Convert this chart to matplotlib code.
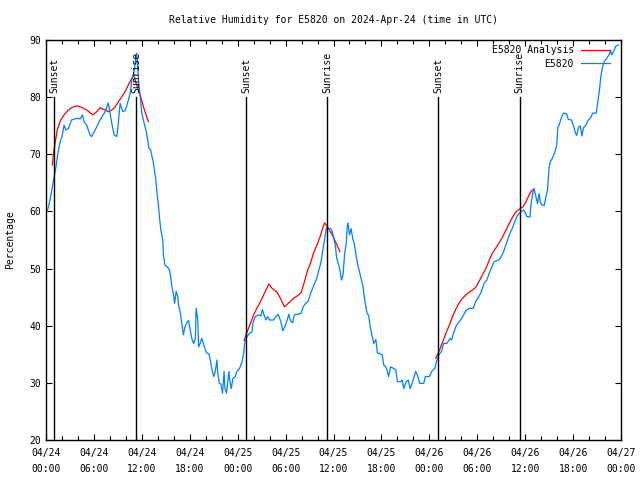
"""Relative humidity at E5820, observed vs analysis, with sunrise/sunset marks."""

import numpy as np
import pandas as pd
import matplotlib
matplotlib.use("Agg")
import matplotlib.pyplot as plt
import matplotlib.dates as mdates

plt.rcParams['font.family'] = ['DejaVu Sans Mono']
plt.rcParams['font.size'] = 7

start = pd.Timestamp('2024-04-24 00:00')

# observed humidity (hours since start, percent)
obs_hours = [0.16, 0.5, 0.92, 1.25, 1.55, 1.84, 2.0, 2.26, 2.5, 2.8, 3.2, 3.85, 4.3, 4.56, 4.77,
             5.1, 5.5, 5.7, 6.15, 6.77, 7.4, 7.8, 7.95, 8.24, 8.53, 8.87, 9.05, 9.28, 9.62, 9.9,
             10.2, 10.54, 10.75, 11.04, 11.25, 11.37, 11.58, 11.79, 12.0, 12.3, 12.6, 12.9, 13.1,
             13.46, 13.75, 13.9, 14.1, 14.2, 14.38, 14.63, 14.7, 14.9, 15.2, 15.47, 15.6, 15.77,
             15.97, 16.1, 16.3, 16.5, 16.6, 16.8, 17.0, 17.2, 17.4, 17.7, 17.85, 18.06, 18.3,
             18.5, 18.7, 18.8, 19.0, 19.1, 19.3, 19.5, 19.7, 19.94, 20.15, 20.4, 20.57, 20.8,
             21.0, 21.2, 21.4, 21.5, 21.7, 21.9, 22.1, 22.3, 22.4, 22.6, 22.9, 23.0, 23.2, 23.4,
             23.7, 23.9, 24.25, 24.55, 24.75, 24.96, 25.18, 25.5, 25.8, 25.9, 26.2, 26.6, 26.9,
             27.1, 27.3, 27.55, 27.75, 28.0, 28.5, 28.7, 29.05, 29.35, 29.65, 29.9, 30.2, 30.4,
             30.6, 30.9, 31.0, 31.2, 31.6, 31.95, 32.2, 32.5, 32.8, 33.0, 33.3, 33.6, 33.9, 34.1,
             34.4, 34.6, 34.8, 35.0, 35.1, 35.65, 35.85, 36.05, 36.25, 36.4, 36.6, 36.8, 37.0,
             37.2, 37.4, 37.6, 37.7, 37.8, 38.0, 38.2, 38.4, 38.6, 38.85, 39.05, 39.3, 39.5,
             39.7, 39.9, 40.2, 40.4, 40.6, 40.85, 41.05, 41.3, 41.5, 41.7, 42.1, 42.3, 42.5,
             42.7, 42.9, 43.15, 43.45, 43.8, 44.0, 44.4, 44.6, 44.8, 45.1, 45.35, 45.6, 45.9,
             46.1, 46.3, 46.5, 46.8, 47.3, 47.5, 48.0, 48.3, 48.7, 48.9, 49.2, 49.5, 49.8, 50.2,
             50.6, 50.8, 51.1, 51.4, 51.9, 52.3, 52.55, 53.0, 53.5, 53.8, 54.2, 54.5, 54.85,
             55.2, 55.5, 55.8, 56.1, 56.7, 57.0, 57.3, 57.5, 57.8, 58.1, 58.4, 58.7, 59.0, 59.45,
             59.8, 59.95, 60.2, 60.6, 60.7, 60.9, 61.1, 61.3, 61.55, 61.75, 61.9, 62.1, 62.4,
             62.6, 62.8, 63.0, 63.15, 63.4, 63.7, 63.95, 64.1, 64.25, 64.5, 64.8, 65.2, 65.4,
             65.8, 66.1, 66.3, 66.45, 66.7, 66.9, 67.1, 67.3, 67.6, 67.9, 68.2, 68.45, 68.9,
             69.1, 69.3, 69.5, 69.7, 69.9, 70.2, 70.5, 70.7, 70.85, 71.2, 71.35, 71.6, 71.7]
obs_rh = [60.0, 62.0, 65.2, 67.8, 70.75, 72.5, 73.0, 75.1, 74.25, 74.5, 76.0, 76.3, 76.2, 76.9, 75.7,
          75.1, 73.4, 73.1, 74.25, 76.0, 77.45, 79.0, 77.8, 75.4, 73.4, 73.1, 75.4, 78.9, 77.5, 77.6,
          78.9, 80.7, 83.0, 84.5, 86.8, 87.7, 83.0, 80.1, 77.2, 75.4, 73.7, 71.0, 70.8,
          68.4, 65.5, 63.2, 60.8, 59.1, 56.75, 55.0, 52.4, 50.6, 50.3, 49.75, 48.6, 46.8,
          45.4, 43.9, 46.0, 45.1, 43.6, 42.45, 40.4, 38.4, 39.8, 40.7, 40.9, 39.2, 37.5,
          36.9, 37.8, 43.05, 41.0, 36.3, 36.9, 37.8, 37.0, 35.75, 35.2, 35.1, 34.0, 32.25,
          31.1, 32.0, 34.0, 31.7, 29.9, 29.8, 28.2, 32.0, 29.1, 28.2, 32.0, 30.5, 29.0, 30.8,
          31.1, 32.0, 32.55, 33.7, 35.2, 37.8, 38.1, 38.7, 38.9, 40.4, 41.6, 41.9, 41.7,
          42.85, 41.9, 41.0, 41.6, 41.0, 41.0, 41.5, 42.0, 41.0, 39.1, 39.8, 41.0, 42.0,
          40.9, 40.5, 41.5, 42.0, 42.0, 42.2, 43.3, 43.9, 44.2, 45.1, 46.25, 47.3, 48.3, 49.45,
          50.9, 52.7, 54.4, 56.2, 57.05, 57.05, 56.45, 55.3, 53.8, 51.8, 50.9, 49.75, 48.0,
          48.9, 52.7, 54.4, 57.05, 58.0, 55.9, 57.0, 55.3, 54.4, 52.1, 50.6, 49.2, 48.0,
          46.8, 44.5, 42.2, 41.8, 39.8, 38.1, 36.9, 37.6, 35.2, 35.2, 34.9, 33.1, 32.9,
          32.25, 31.1, 32.8, 32.6, 32.25, 30.2, 30.2, 30.5, 29.0, 30.2, 30.5, 29.0, 30.2,
          31.1, 32.0, 31.4, 29.9, 29.9, 31.1, 31.1, 32.0, 32.55, 33.8, 34.9, 35.45, 36.9, 36.9,
          37.8, 37.5, 39.0, 40.1, 41.0, 41.9, 42.6, 43.05, 43.05, 44.2, 45.1, 45.9, 47.4,
          48.0, 49.2, 50.2, 51.2, 51.5, 52.1, 52.95, 53.8, 55.0, 56.2, 57.05, 58.2, 59.2, 59.95,
          60.25, 59.95, 59.1, 59.0, 60.8, 62.9, 64.05, 62.9, 61.4, 63.1, 61.6, 61.1, 61.1,
          62.6, 63.75, 67.8, 68.7, 69.3, 70.3, 71.6, 74.8, 75.1, 76.3, 77.2, 77.1, 76.1,
          76.0, 74.8, 73.7, 73.3, 74.8, 74.95, 73.2, 74.6, 75.1, 76.0, 76.4, 77.2, 77.2,
          79.2, 81.25, 83.9, 85.3, 86.2, 86.8, 87.4, 88.1, 87.4, 88.4, 88.9, 89.1, 89.1]

# analysis runs (three separate segments)
ana1_hours = [0.8, 0.92, 1.1, 1.4, 1.84, 2.26, 2.8, 3.2, 3.85, 4.47, 5.1, 5.85, 6.35, 6.77, 7.4,
              7.8, 8.24, 8.66, 9.07, 9.5, 9.9, 10.3, 10.75, 10.95, 11.16, 11.45, 11.8, 12.2,
              12.6, 12.83]
ana1_rh = [68.1, 69.9, 71.6, 74.25, 76.0, 76.9, 77.75, 78.15, 78.5, 78.2, 77.75, 76.9, 77.45,
           78.15, 77.75, 77.45, 77.75, 78.3, 79.2, 80.1, 80.95, 82.1, 83.3, 83.9, 83.0, 81.8,
           80.4, 78.3, 76.6, 75.7]
ana2_hours = [24.8, 25.2, 25.6, 26.0, 26.4, 26.85, 27.25, 27.9, 28.3, 28.9, 29.35, 29.85, 30.4,
              31.0, 31.65, 31.95, 32.3, 32.7, 33.1, 33.5, 34.0, 34.4, 34.7, 34.9, 35.1, 35.4,
              35.85, 36.25, 36.8]
ana2_rh = [37.4, 39.0, 40.4, 41.9, 43.05, 44.2, 45.4, 47.3, 46.55, 45.95, 44.8, 43.3, 44.0,
           44.8, 45.4, 45.8, 47.4, 49.45, 50.9, 52.7, 54.4, 55.9, 57.35, 58.0, 57.6, 56.9,
           55.9, 54.7, 52.95]
ana3_hours = [48.8, 49.2, 49.6, 50.05, 50.5, 50.9, 51.3, 51.7, 52.15, 52.8, 53.4, 53.8, 54.2,
              54.65, 55.1, 55.5, 55.9, 56.3, 56.7, 57.2, 57.6, 58.0, 58.4, 58.85, 59.3, 59.7,
              59.95, 60.3, 60.6, 60.9]
ana3_rh = [34.3, 35.45, 36.9, 38.6, 40.1, 41.6, 42.85, 43.9, 44.8, 45.7, 46.25, 46.7, 47.7,
           48.9, 50.05, 51.5, 52.7, 53.55, 54.4, 55.6, 56.75, 57.9, 58.95, 59.95, 60.4, 60.8,
           61.3, 62.3, 63.2, 63.75]

sunset_hours = [1.04, 25.04, 49.1]
sunrise_hours = [11.3, 35.2, 59.3]


def to_time(hours):
    return start + pd.to_timedelta(np.asarray(hours), unit='h')


fig = plt.figure(figsize=(6.4, 4.8), dpi=100)
ax = fig.add_axes([46 / 640, 40 / 480, 575 / 640, 400 / 480])

red = '#ff0000'
blue = '#0080ff'

ax.plot(to_time(ana1_hours), ana1_rh, color=red, lw=0.9, label='E5820 Analysis')
ax.plot(to_time(ana2_hours), ana2_rh, color=red, lw=0.9)
ax.plot(to_time(ana3_hours), ana3_rh, color=red, lw=0.9)
ax.plot(to_time(obs_hours), obs_rh, color=blue, lw=0.9, label='E5820')

for hrs, name in [(sunset_hours, 'Sunset'), (sunrise_hours, 'Sunrise')]:
    for h in hrs:
        t = to_time([h])[0]
        ax.plot([t, t], [20, 80], color='black', lw=1.0)
        ax.text(t, 80.8, name, rotation=90, ha='center', va='bottom', fontsize=7)

ax.set_xlim(start, start + pd.Timedelta(hours=72))
ax.set_ylim(20, 90)
ax.set_yticks(range(20, 91, 10))
ax.xaxis.set_major_locator(mdates.HourLocator(byhour=[0, 6, 12, 18]))
ax.xaxis.set_major_formatter(mdates.DateFormatter('%m/%d\n%H:%M'))
ax.xaxis.set_minor_locator(mdates.HourLocator(interval=2))
ax.tick_params(which='both', direction='in', top=True, right=True, length=4, width=0.8)
ax.tick_params(which='minor', length=3)
ax.tick_params(axis='x', pad=6)
for lab in ax.get_xticklabels():
    lab.set_linespacing(1.7)
for s in ax.spines.values():
    s.set_linewidth(1.0)

ax.set_title('Relative Humidity for E5820 on 2024-Apr-24 (time in UTC)', fontsize=7, pad=12)
ax.set_ylabel('Percentage', labelpad=10)

leg = ax.legend(loc='upper right', bbox_to_anchor=(0.981, 0.987), frameon=False,
                markerfirst=False, handlelength=3.0, borderaxespad=0, borderpad=0,
                labelspacing=0.35, handletextpad=0.72)

fig.savefig('out.png', dpi=100)
